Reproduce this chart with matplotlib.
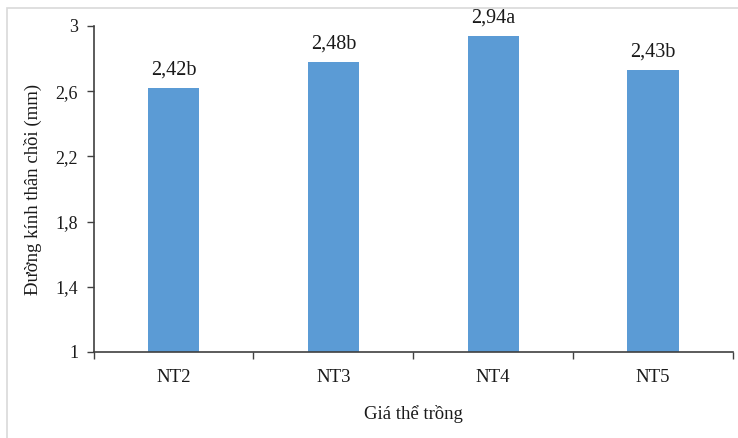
import matplotlib
matplotlib.use("Agg")
import matplotlib.pyplot as plt
from matplotlib.patches import Rectangle

# data
categories = ["NT2", "NT3", "NT4", "NT5"]
heights = [2.62, 2.78, 2.94, 2.73]
bar_labels = ["2,42b", "2,48b", "2,94a", "2,43b"]
yticks = [1, 1.4, 1.8, 2.2, 2.6, 3]
ytick_labels = ["1", "1,4", "1,8", "2,2", "2,6", "3"]

plt.rcParams['font.family'] = ['Liberation Serif', 'DejaVu Serif']
plt.rcParams['text.color'] = "#1a1a1a"
plt.rcParams['axes.labelcolor'] = "#1a1a1a"
plt.rcParams['xtick.labelcolor'] = "#1a1a1a"
plt.rcParams['ytick.labelcolor'] = "#1a1a1a"

W, H = 738, 438
fig = plt.figure(figsize=(W / 100, H / 100), dpi=100)

# light grey chart border (Excel style)
fig.patches.append(Rectangle((7 / W, -0.1), 2, (H - 8) / H + 0.1, transform=fig.transFigure,
                             fill=False, edgecolor="#d9d9d9", linewidth=1.2))

left, right, top, bottom = 93.5, 733, 26, 352
ax = fig.add_axes([left / W, 1 - bottom / H, (right - left) / W, (bottom - top) / H])

x = range(len(categories))
bars = ax.bar(x, heights, width=0.32, color="#5b9bd5", zorder=2)
for b, lab in zip(bars, bar_labels):
    ax.annotate(lab, (b.get_x() + b.get_width() / 2, b.get_height()),
                xytext=(0, 6), textcoords="offset points",
                ha="center", va="bottom", fontsize=14.5)

ax.set_xlim(-0.5, len(categories) - 0.5)
ax.set_ylim(1, 3)
ax.set_yticks(yticks)
ax.set_yticklabels(ytick_labels, fontsize=13)
ax.set_xticks(list(x))
ax.set_xticklabels(categories, fontsize=13.5)
ax.set_xticks([i - 0.5 for i in range(len(categories) + 1)], minor=True)
ax.tick_params(axis="x", which="major", length=0, pad=12)
ax.tick_params(axis="x", which="minor", length=5, width=1, color="#404040", direction="out")
ax.tick_params(axis="y", length=5, width=1, color="#404040", pad=6)

for s in ["top", "right"]:
    ax.spines[s].set_visible(False)
for s in ["left", "bottom"]:
    ax.spines[s].set_color("#404040")
    ax.spines[s].set_linewidth(1.2)

ax.set_ylabel("Đường kính thân chồi (mm)", fontsize=13.5, labelpad=10)
ax.set_xlabel("Giá thể trồng", fontsize=13.5, labelpad=14)

fig.savefig("out.png", dpi=100)
